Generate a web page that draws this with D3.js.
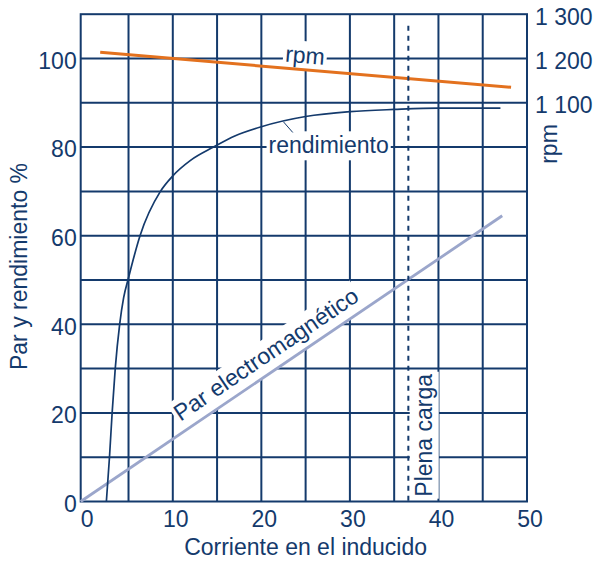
<!DOCTYPE html>
<html>
<head>
<meta charset="utf-8">
<script src="https://cdn.jsdelivr.net/npm/d3@7"></script>
<style>
  body { margin: 0; background: #fff; }
  text { font-family: "Liberation Sans", Arial, sans-serif; fill: #143a6c; }
</style>
</head>
<body>
<script>
var w = 599, h = 562;
var navy = "#143a6c", orange = "#e3711e", lilac = "#9ba6cb";

// values
var xTicks = [0, 10, 20, 30, 40, 50];
var yTicks = [0, 20, 40, 60, 80, 100];
var rpmTicks = [1100, 1200, 1300];
var gridX = [5, 10, 15, 20, 25, 30, 35, 40, 45];
var gridY = [10, 20, 30, 40, 50, 60, 70, 80, 90, 100];

// rendimiento %  vs corriente
var rendimiento = [[2.5, 0], [2.85, 10], [3.15, 20], [3.5, 30], [4.0, 40], [4.45, 46],
  [5, 50.5], [6.3, 60], [8.6, 70], [10, 73.5], [12, 77], [14.6, 80], [17, 82.5],
  [20, 84.6], [25, 86.9], [30, 88], [35, 88.5], [40, 88.8], [47, 88.8]];
// rpm vs corriente
var rpm = [[1.8, 1214], [48.2, 1135]];
// par electromagnetico vs corriente
var par = [[-0.4, 0], [47.2, 64.5]];
var plenaCarga = 36.6;

var svg = d3.select("body").append("svg")
    .attr("width", w)
    .attr("height", h);

var x = d3.scaleLinear().domain([-0.4, 50]).range([80.7, 527]),
    y = d3.scaleLinear().domain([0, 110]).range([501.5, 14.2]),
    yR = d3.scaleLinear().domain([200, 1300]).range([501.5, 14.2]);

// grid
var grid = svg.append("g").attr("stroke", navy).attr("stroke-width", 2);
grid.selectAll(".gx").data(gridX).enter().append("line")
    .attr("x1", d => x(d)).attr("x2", d => x(d))
    .attr("y1", y(0)).attr("y2", y(110));
grid.selectAll(".gy").data(gridY).enter().append("line")
    .attr("x1", x(-0.4)).attr("x2", x(50))
    .attr("y1", d => y(d)).attr("y2", d => y(d));
grid.append("rect")
    .attr("x", x(-0.4)).attr("y", y(110))
    .attr("width", x(50) - x(-0.4)).attr("height", y(0) - y(110))
    .attr("fill", "none");

// axes
function styleAxis(g) {
  g.attr("font-size", 23).attr("font-family", null);
  g.select(".domain").remove();
}
svg.append("g")
    .attr("transform", "translate(" + x(-0.4) + ",0)")
    .call(d3.axisLeft(y).tickValues(yTicks).tickSize(0).tickPadding(4))
    .call(styleAxis)
    .selectAll("text").attr("dy", "0.43em");

svg.append("g")
    .attr("transform", "translate(0," + y(0) + ")")
    .call(d3.axisBottom(x).tickValues(xTicks).tickSize(0).tickPadding(9))
    .call(styleAxis)
    .selectAll("text").attr("dx", 2.5);

svg.append("g")
    .attr("transform", "translate(" + x(50) + ",0)")
    .call(d3.axisRight(yR).tickValues(rpmTicks).tickSize(0).tickPadding(8)
      .tickFormat(d => d3.format(",")(d).replace(",", " ")))
    .call(styleAxis)
    .selectAll("text").attr("dy", "0.43em");

// axis titles
svg.append("text")
    .attr("x", (x(0) + x(50)) / 2).attr("y", 555)
    .attr("text-anchor", "middle").attr("font-size", 23)
    .text("Corriente en el inducido");

svg.append("text")
    .attr("transform", "translate(26.7,266.5) rotate(-90)")
    .attr("text-anchor", "middle").attr("font-size", 23)
    .text("Par y rendimiento %");

svg.append("text")
    .attr("transform", "translate(557,144) rotate(-90)")
    .attr("text-anchor", "middle").attr("font-size", 23)
    .text("rpm");

// labels with white boxes behind them
var labels = svg.append("g");
function tag(px, py, angle, txt, anchor, dy, toLine) {
  var g = labels.append("g")
      .attr("transform", "translate(" + px + "," + py + ") rotate(" + angle + ")");
  var r = g.append("rect").attr("fill", "#fff");
  var t = g.append("text")
      .attr("y", dy)
      .attr("text-anchor", anchor)
      .attr("font-size", 23)
      .text(txt);
  var b = t.node().getBBox();
  var bottom = toLine ? 0 : b.y + b.height + 2;
  r.attr("x", b.x - 2).attr("y", b.y - 1)
   .attr("width", b.width + 4).attr("height", bottom - b.y + 1);
}

function angleOf(s, a, b) {
  return Math.atan2(s(b[1]) - s(a[1]), x(b[0]) - x(a[0])) * 180 / Math.PI;
}

// Par electromagnetico along its line
var parAt = d3.scaleLinear().domain([par[0][0], par[1][0]]).range([par[0][1], par[1][1]]);
tag(x(11.5), y(parAt(11.5)), angleOf(y, par[0], par[1]), "Par electromagnético", "start", -10, true);

// rpm along its line
var rpmAt = d3.scaleLinear().domain([rpm[0][0], rpm[1][0]]).range([rpm[0][1], rpm[1][1]]);
tag(x(24.8), yR(rpmAt(24.8)), angleOf(yR, rpm[0], rpm[1]), "rpm", "middle", -6.5, true);

// rendimiento
tag(x(27.6), y(78.6), 0, "rendimiento", "middle", 0, false);

// Plena carga
tag(x(plenaCarga) + 23.4, y(0) - 4.8, -90, "Plena carga", "start", 0, false);

// lines
var line = d3.line().x(d => x(d[0]));

svg.append("path")
    .attr("d", line.y(d => y(d[1]))(par))
    .attr("fill", "none").attr("stroke", lilac).attr("stroke-width", 2.8);

svg.append("path")
    .attr("d", d3.line().x(d => x(d[0])).y(d => y(d[1])).curve(d3.curveMonotoneX)(rendimiento))
    .attr("fill", "none").attr("stroke", navy).attr("stroke-width", 1.7);

svg.append("path")
    .attr("d", d3.line().x(d => x(d[0])).y(d => yR(d[1]))(rpm))
    .attr("fill", "none").attr("stroke", orange).attr("stroke-width", 3);

// leader for rendimiento
svg.append("line")
    .attr("x1", x(22.5)).attr("y1", y(85.7))
    .attr("x2", x(23.55)).attr("y2", y(83.3))
    .attr("stroke", navy).attr("stroke-width", 1);

// plena carga dashed line
svg.append("line")
    .attr("x1", x(plenaCarga)).attr("x2", x(plenaCarga))
    .attr("y1", y(107.4)).attr("y2", y(0))
    .attr("stroke", navy).attr("stroke-width", 2)
    .attr("stroke-dasharray", "5,5");
</script>
</body>
</html>
